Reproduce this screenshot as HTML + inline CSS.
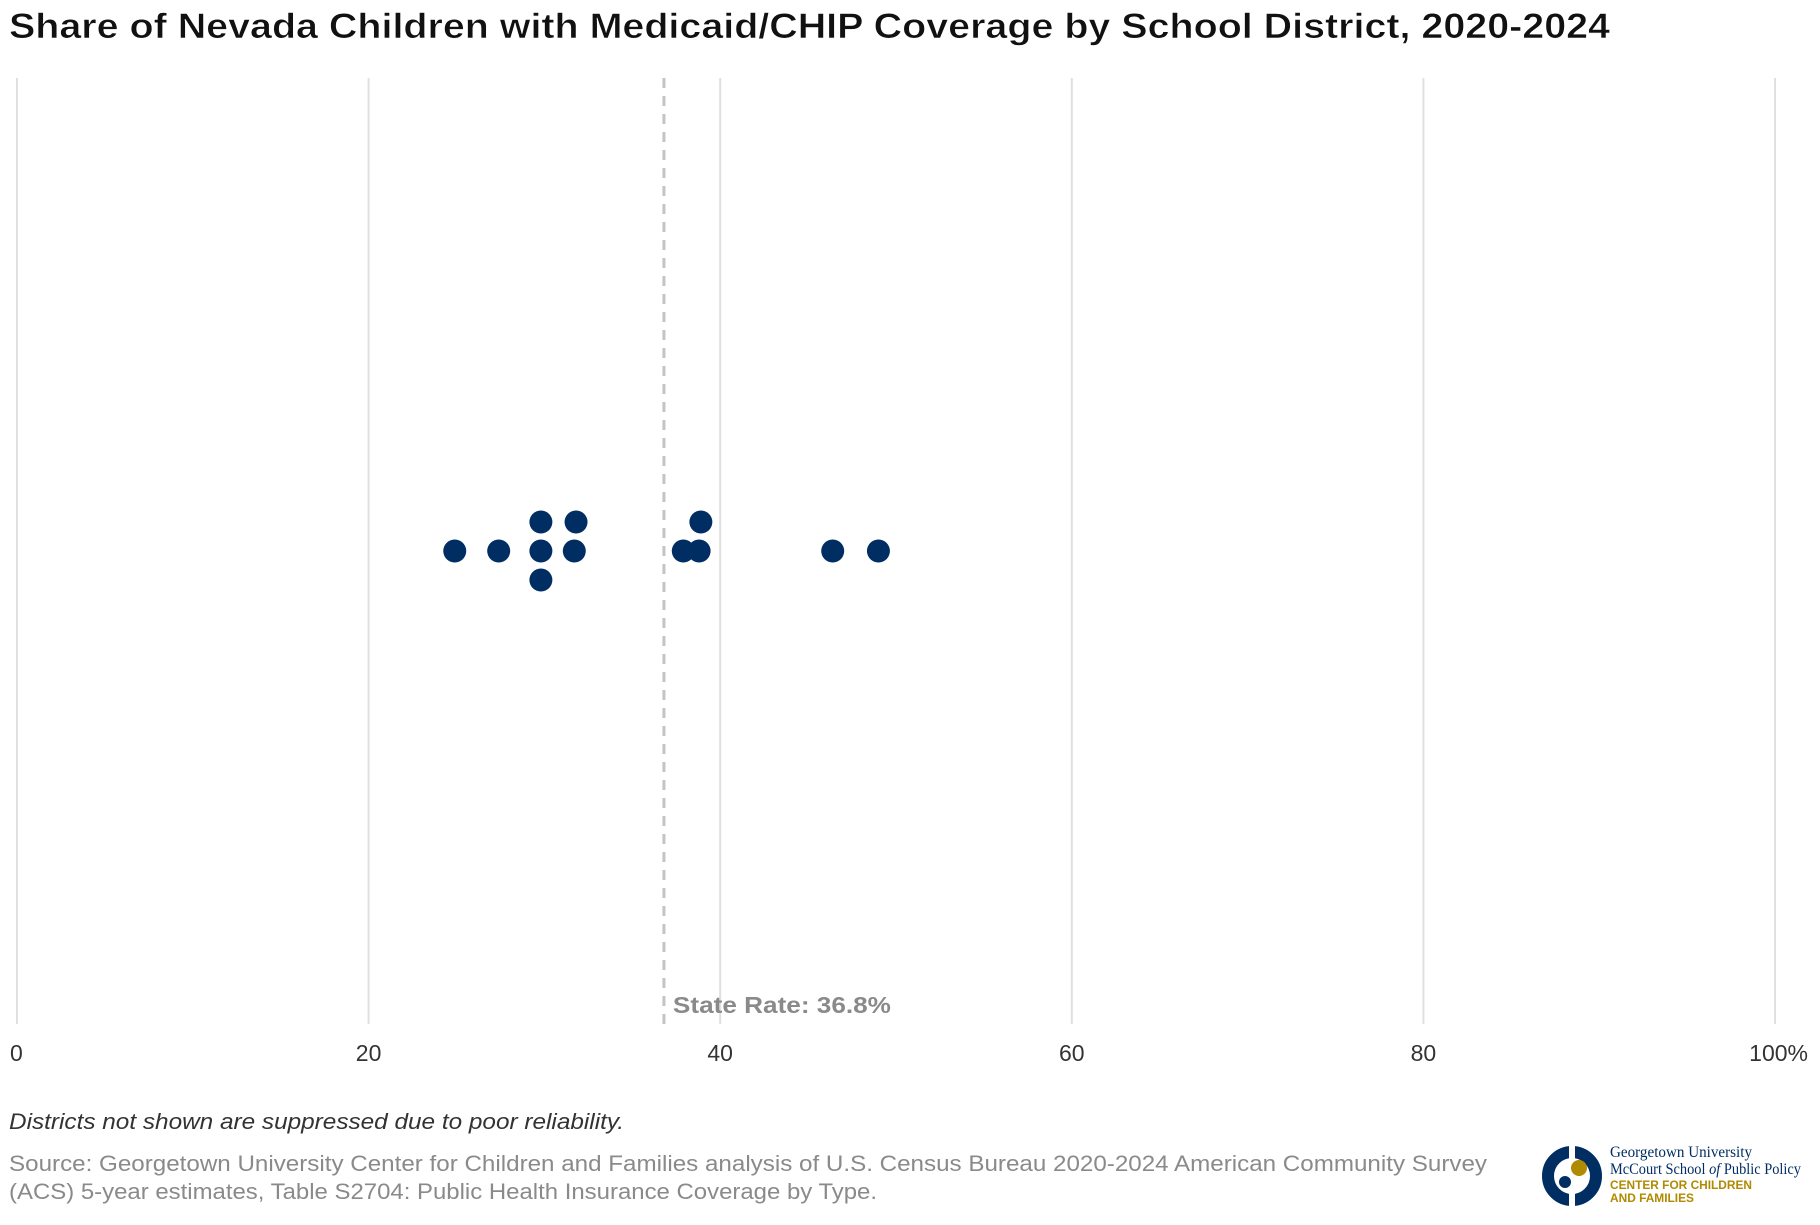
<!DOCTYPE html>
<html><head><meta charset="utf-8"><style>
body{margin:0;background:#fff;width:1820px;height:1220px;overflow:hidden;font-family:"Liberation Sans",sans-serif}
</style></head><body>
<svg width="1820" height="1220" xmlns="http://www.w3.org/2000/svg">
<text x="9" y="38" font-size="35" font-weight="bold" fill="#111" stroke="#fff" stroke-width="0.6" textLength="1601" lengthAdjust="spacingAndGlyphs">Share of Nevada Children with Medicaid/CHIP Coverage by School District, 2020-2024</text>
<g id="grid"></g>
<g id="ticks"></g>
<g id="ref"></g>
<g id="dots"></g>
<text x="9" y="1129" font-size="22" font-style="italic" fill="#333" textLength="615" lengthAdjust="spacingAndGlyphs">Districts not shown are suppressed due to poor reliability.</text>
<text x="9" y="1171" font-size="22" fill="#8a8a8a" textLength="1478" lengthAdjust="spacingAndGlyphs">Source: Georgetown University Center for Children and Families analysis of U.S. Census Bureau 2020-2024 American Community Survey</text>
<text x="9" y="1199" font-size="22" fill="#8a8a8a" textLength="868" lengthAdjust="spacingAndGlyphs">(ACS) 5-year estimates, Table S2704: Public Health Insurance Coverage by Type.</text>
<g>
<circle cx="1572" cy="1176" r="24" fill="none" stroke="#002d62" stroke-width="12"/>
<rect x="1569" y="1145" width="6" height="62" fill="#fff"/>
<circle cx="1579" cy="1168" r="8" fill="#b08a00"/>
<circle cx="1565" cy="1182" r="6" fill="#002d62"/>
<text x="1610" y="1157" font-family="Liberation Serif,serif" font-size="16" fill="#002d62" textLength="142" lengthAdjust="spacingAndGlyphs">Georgetown University</text>
<text x="1610" y="1174" font-family="Liberation Serif,serif" font-size="16" fill="#002d62" textLength="191" lengthAdjust="spacingAndGlyphs">McCourt School <tspan font-style="italic">of</tspan> Public Policy</text>
<text x="1610" y="1189" font-size="12" font-weight="bold" fill="#b08a00" textLength="142" lengthAdjust="spacingAndGlyphs">CENTER FOR CHILDREN</text>
<text x="1610" y="1202" font-size="12" font-weight="bold" fill="#b08a00" textLength="84" lengthAdjust="spacingAndGlyphs">AND FAMILIES</text>
</g>
</svg>
<script>
const ticks=[0,20,40,60,80,100];
const tickLabels=["0","20","40","60","80","100%"];
const stateRate=[36.8];
const values=[24.9,27.4,29.8,31.7,37.9,38.8,46.4,49.0,29.8,31.8,38.9,29.8];
const rows=[0,0,0,0,0,0,0,0,1,1,1,-1];
const NS="http://www.w3.org/2000/svg";
const x=v=>17+v/100*1758;
const y=r=>551-r*29;
function mk(t,a,p){const e=document.createElementNS(NS,t);for(const k in a)e.setAttribute(k,a[k]);p.appendChild(e);return e;}
const g=document.getElementById('grid'),tk=document.getElementById('ticks');
ticks.forEach((t,i)=>{
 const l=mk('line',{x1:x(t),x2:x(t),y1:78,y2:1024,stroke:'#e0e0e0','stroke-width':2},g);
 
 
 const tx=mk('text',{x:x(t),y:1061,'font-size':23,fill:'#333','text-anchor':i==0?'start':(i==ticks.length-1?'end':'middle')},tk);
 if(i==ticks.length-1)tx.setAttribute('x',x(t)+33);
 if(i==0)tx.setAttribute('x',x(t)-7);
 tx.textContent=tickLabels[i];
 
 
});
const rg=document.getElementById('ref');
const rl=mk('line',{x1:x(stateRate[0]),x2:x(stateRate[0]),y1:78,y2:1024,stroke:'#c4c4c4','stroke-width':3,'stroke-dasharray':'10,8'},rg);


const rt=mk('text',{x:x(stateRate[0])+9,y:1013,'font-size':23,'font-weight':'bold',fill:'#8a8a8a',textLength:218,lengthAdjust:'spacingAndGlyphs'},rg);
rt.textContent='State Rate: '+stateRate[0]+'%';


const dg=document.getElementById('dots');
values.forEach((v,i)=>{
 const c=mk('circle',{cx:x(v),cy:y(rows[i]),r:11.5,fill:'#002d62'},dg);
 
 
});
</script>
</body></html>
